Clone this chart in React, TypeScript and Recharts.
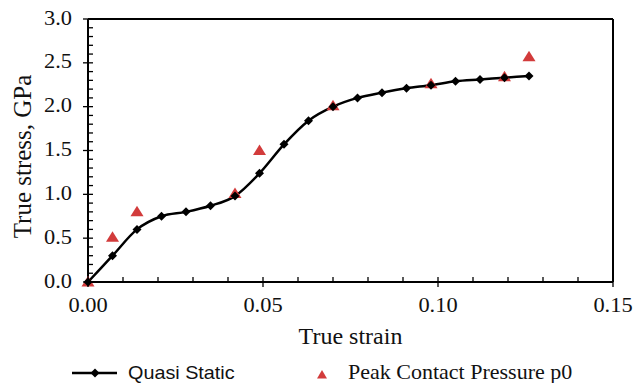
import React from 'react'
import { ComposedChart, Line, Scatter, XAxis, YAxis, Legend, ReferenceLine, Label } from 'recharts'

const qsStrain = [0, 0.007, 0.014, 0.021, 0.028, 0.035, 0.042, 0.049, 0.056, 0.063, 0.07, 0.077, 0.084, 0.091, 0.098, 0.105, 0.112, 0.119, 0.126]
const qsStress = [0, 0.3, 0.6, 0.75, 0.8, 0.87, 0.98, 1.24, 1.57, 1.84, 2.0, 2.1, 2.16, 2.21, 2.245, 2.29, 2.31, 2.33, 2.35]

const pcpStrain = [0, 0.007, 0.014, 0.042, 0.049, 0.07, 0.098, 0.119, 0.126]
const pcpStress = [0, 0.51, 0.8, 1.01, 1.5, 2.01, 2.26, 2.34, 2.57]

const xTicks = [0, 0.01, 0.02, 0.03, 0.04, 0.05, 0.06, 0.07, 0.08, 0.09, 0.1, 0.11, 0.12, 0.13, 0.14, 0.15]
const yTicks = [0, 0.1, 0.2, 0.3, 0.4, 0.5, 0.6, 0.7, 0.8, 0.9, 1.0, 1.1, 1.2, 1.3, 1.4, 1.5, 1.6, 1.7, 1.8, 1.9, 2.0,
  2.1, 2.2, 2.3, 2.4, 2.5, 2.6, 2.7, 2.8, 2.9, 3.0]

const quasiStatic = qsStrain.map((x, i) => ({ x, y: qsStress[i] }))
const peakPressure = pcpStrain.map((x, i) => ({ x, y: pcpStress[i] }))

const SERIF = '"Liberation Serif", "Times New Roman", serif'
const SANS = '"Liberation Sans", Arial, sans-serif'
const RED = '#d23b3b'

function XTick({ x, y, payload }: any) {
  const v = payload.value
  const major = Math.round(v * 100) % 5 === 0
  return (
    <g>
      <line x1={x} x2={x} y1={major ? y + 5 : y} y2={y - 5} stroke="#000" strokeWidth={1.3} />
      {major && (
        <text transform={`translate(${x},${y + 30}) scale(1.12,1)`} textAnchor="middle"
          fontFamily={SERIF} fontSize={20} fill="#111">
          {v.toFixed(2)}
        </text>
      )}
    </g>
  )
}

function YTick({ x, y, payload }: any) {
  const v = payload.value
  const major = Math.round(v * 10) % 5 === 0
  return (
    <g>
      <line x1={major ? x - 5 : x} x2={x + 5} y1={y} y2={y} stroke="#000" strokeWidth={1.3} />
      {major && (
        <text transform={`translate(${x - 16},${y + 5.5}) scale(1.12,1)`} textAnchor="end"
          fontFamily={SERIF} fontSize={20} fill="#111">
          {v.toFixed(1)}
        </text>
      )}
    </g>
  )
}

function Diamond({ cx, cy }: any) {
  if (cx == null || cy == null) return null
  const r = 4.5
  return <polygon points={`${cx},${cy - r} ${cx + r},${cy} ${cx},${cy + r} ${cx - r},${cy}`} fill="#000" />
}

function Triangle({ cx, cy }: any) {
  if (cx == null || cy == null) return null
  return <polygon points={`${cx},${cy - 6} ${cx + 6.5},${cy + 4.5} ${cx - 6.5},${cy + 4.5}`} fill={RED} />
}

function LegendBox() {
  return (
    <svg width={636} height={31} style={{ display: 'block' }}>
      <line x1={72} x2={117} y1={21} y2={21} stroke="#000" strokeWidth={2.5} />
      <polygon points="95,16.5 99.5,21 95,25.5 90.5,21" fill="#000" />
      <text transform="translate(128,27) scale(1.1,1)" fontFamily={SANS} fontSize={18} fill="#111">Quasi Static</text>
      <polygon points="322,18 327,26.5 317,26.5" fill={RED} />
      <text x={348} y={27} fontFamily={SERIF} fontSize={22} fill="#111">Peak Contact Pressure p0</text>
    </svg>
  )
}

export default function App() {
  return (
    <div style={{ width: 636, height: 383 }}>
      <style>{'body{margin:0}'}</style>
      <ComposedChart width={636} height={383} margin={{ top: 19, right: 23, bottom: 0, left: 0 }}>
        <XAxis type="number" dataKey="x" domain={[0, 0.15]} ticks={xTicks} interval={0}
          height={70} tickSize={0} tickMargin={0} tick={<XTick />} axisLine={{ stroke: '#000', strokeWidth: 2 }}>
          <Label content={(p: any) => {
            const vb = p.viewBox
            return (
              <text x={vb.x + vb.width / 2} y={vb.y + 62} textAnchor="middle" fontFamily={SERIF} fontSize={24} fill="#111">
                True strain
              </text>
            )
          }} />
        </XAxis>
        <YAxis type="number" dataKey="y" domain={[0, 3]} ticks={yTicks} interval={0}
          width={88} tickSize={0} tickMargin={0} tick={<YTick />} axisLine={{ stroke: '#000', strokeWidth: 2 }}>
          <Label content={(p: any) => {
            const vb = p.viewBox
            const cx = vb.x + 31
            const cy = vb.y + vb.height / 2 + 6
            return (
              <text x={cx} y={cy} transform={`rotate(-90, ${cx}, ${cy})`} textAnchor="middle"
                fontFamily={SERIF} fontSize={25} fill="#111">
                True stress, GPa
              </text>
            )
          }} />
        </YAxis>
        <ReferenceLine y={3} stroke="#000" strokeWidth={2} />
        <ReferenceLine x={0.15} stroke="#000" strokeWidth={2} />
        <Legend verticalAlign="bottom" content={() => <LegendBox />}
          wrapperStyle={{ left: 0, top: 352, width: 636, height: 31 }} />
        <Line data={quasiStatic} dataKey="y" type="monotone" stroke="#000" strokeWidth={2.5}
          dot={<Diamond />} activeDot={false} isAnimationActive={false} legendType="none" />
        <Scatter data={peakPressure} dataKey="y" shape={<Triangle />} isAnimationActive={false} legendType="none" />
      </ComposedChart>
    </div>
  )
}
